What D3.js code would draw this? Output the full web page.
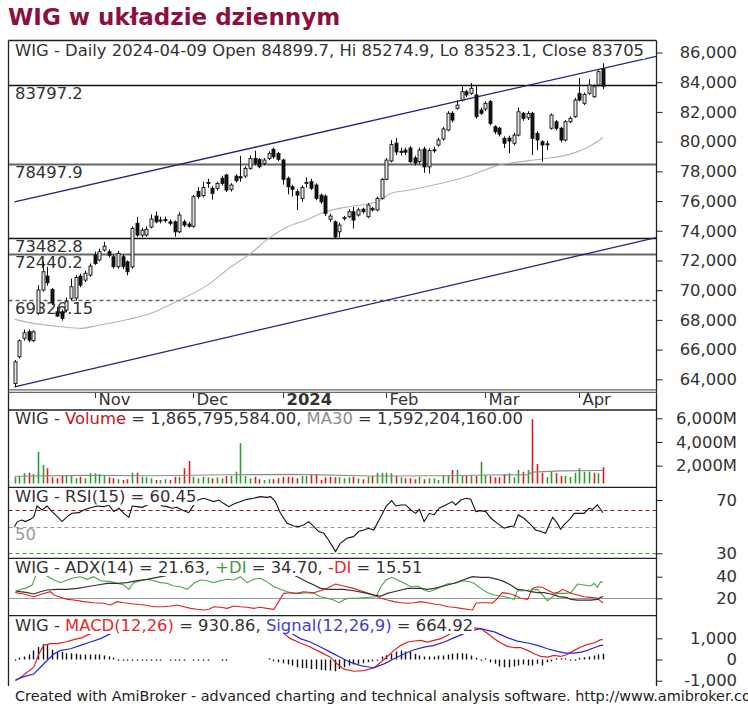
<!DOCTYPE html>
<html><head><meta charset="utf-8">
<script src="https://cdnjs.cloudflare.com/ajax/libs/d3/7.8.5/d3.min.js"></script>
<style>
body{margin:0;background:#fff}
svg{display:block}
text{font-family:"DejaVu Sans",Verdana,sans-serif}
</style>
</head><body>
<svg id="c" width="748" height="707"></svg>
<script>
// ---------------- DATA ----------------
const opens  = [63720,65515,66760,67200,66600,68460,70010,70950,70050,68545,68545,68660,69450,69470,70950,70680,71010,72360,72030,72700,
72590,72250,71580,72250,71910,71570,74500,73710,73710,74250,74990,74720,74750,74600,74600,73930,74600,74450,74300,76640,
76360,77200,76860,76860,77530,77750,76790,77680,77640,77680,78200,78870,78800,78540,78870,79480,79210,78760,77530,76960,
76630,76180,77200,77300,77080,76400,76330,74770,74600,73930,74850,74940,75280,75060,75450,74940,75510,75400,76180,77460,
78700,79900,79350,79430,79570,78900,78650,79500,78300,79450,79770,80180,80780,81910,82240,82800,83360,83250,83140,82130,
82200,82690,81000,80900,80220,80240,79890,80440,81910,81600,81910,80560,79990,79850,80900,81340,80900,80110,81340,81680,
83250,82580,83250,83020,83810,84899.7];
const highs  = [65300,66700,67350,67350,67300,70340,71910,71575,70150,68880,68700,69500,70780,71000,71100,71300,71800,72600,72800,73260,
72750,72400,72650,72400,72000,74300,74940,74200,74300,75100,75300,74950,74950,74750,74700,75250,74750,74600,76400,76950,
77300,77500,77000,77300,77700,77850,77200,77800,79050,78350,79080,79390,78900,78900,79350,79600,79300,78850,77650,77100,
76800,77050,77600,77500,77200,76500,76450,75150,74700,74550,75000,75450,75600,75550,75550,75850,75600,76300,77550,78900,
80100,80250,79600,79600,79700,79050,79600,79650,79550,79650,80250,81000,82050,82050,82800,83700,83500,83950,83810,82300,
82700,82800,81100,81000,80350,80400,80600,82300,82000,82050,82000,80700,80100,80050,81900,81450,81000,81450,81700,82950,
84280,83300,84200,83850,84800,85274.9];
const lows   = [63500,65400,66600,66500,66500,68350,69900,70300,69000,68210,67950,68500,69300,69300,70200,70550,70900,71700,71950,72600,
72200,71450,71450,71400,71000,71450,73600,73550,73600,74150,74500,74500,74550,74350,73600,73850,74250,74200,74200,76150,
76250,76900,76100,76700,77050,76600,76650,77250,77300,77550,78100,78400,78200,78400,78750,78850,78700,77100,76450,76300,
75400,75950,76900,76750,76050,75800,75000,74600,73500,73560,74700,74850,74150,74950,75150,74850,75300,75300,76100,77400,
78600,79100,79050,79100,78550,78400,78500,77900,77850,79250,79650,80050,80700,81300,82150,82700,83000,83150,81550,81800,
82050,81100,80500,80350,79570,79230,79750,80350,81400,81450,79100,79430,78650,79430,80800,80750,79950,80000,81250,81600,
82700,82450,83150,82950,83700,83523.1];
const closes = [65180,66593,67130,66640,67200,70010,71240,70500,69150,68255,68100,69220,70230,70860,70340,71140,71620,71800,72590,72960,
72360,71580,72480,71580,71240,74160,73710,74040,74100,74790,74600,74700,74720,74500,73930,75060,74380,74300,76290,76300,
76920,77250,76520,77190,77190,76740,77080,77370,77550,78200,78870,78540,78310,78760,79210,78980,78810,77460,76960,76790,
76400,76920,77250,76860,76180,75950,75170,74990,73590,74380,74880,75280,74720,75400,75280,75730,75400,76180,77460,78760,
79800,79300,79320,79290,78650,78560,79430,78300,79400,79430,80110,80850,81910,81450,82460,83360,83140,83590,81680,81910,
82580,81230,80670,80500,79890,80040,80440,82010,81570,81900,80220,80110,79770,79820,81790,80900,80110,81340,81570,82800,
82800,83180,83810,83700,84710,83705];

// volume in millions
const volume = [1010,1120,1350,1400,1300,3180,2050,1775,1010,930,1210,1210,1210,930,1065,930,1350,1350,1290,1210,
1010,930,845,785,845,1400,1400,1065,1010,930,785,785,845,785,1065,1065,1775,2390,1065,930,
1065,1010,930,1010,930,1120,1120,1490,3890,1120,930,1065,845,785,845,845,930,1065,1065,1010,
930,1120,1120,1210,1290,785,1010,1065,1010,1010,930,1010,1065,930,845,1065,1120,1400,1400,1400,
1350,1120,1010,930,930,845,1065,845,930,930,785,1210,1210,1630,1630,1210,1210,1210,1120,2330,
1210,1120,1010,1010,1290,1350,1010,1630,1490,1630,5920,2140,1400,1010,1490,1350,1120,1120,1065,1400,
1775,1490,1490,1400,1350,1865];
const volMA30 = [[0,1100],[15,1180],[30,1150],[45,1230],[60,1260],[76,1120],[92,1150],[100,1210],[109,1230],[110,1450],[116,1560],[125,1592]];

// 50-period style moving average on price
const priceMA = [[0,68034],[4,67765],[10,67535],[14,67430],[18,67650],[24,68030],[29,68440],[35,69330],[41,70340],[46,71580],[50,72430],[54,73490],[58,74270],[62,74720],[66,75280],[71,75620],[77,75950],[80,76520],[84,76740],[89,77080],[96,77640],[103,78420],[105,78540],[112,78830],[118,79160],[122,79660],[125,80260]];

// trend channel (index, price)
const channelUpper = [[0,75950],[136.5,85760]];
const channelLower = [[0,63495],[136.5,73555]];

const levels = [83797.2, 78497.9, 73482.8, 72440.2, 69326.15];
const levelLabels = ["83797.2","78497.9","73482.8","72440.2","69326.15"];

const monthTicks  = [17,38,57,79,100,120];
const monthLabels = ["Nov","Dec","2024","Feb","Mar","Apr"];

const priceTicks = [64000,66000,68000,70000,72000,74000,76000,78000,80000,82000,84000,86000];
const volTicks = [2000,4000,6000];
const rsiTicks = [30,70];
const adxTicks = [20,40];
const macdTicks = [-1000,0,1000];

const rsi = [[0,50],[0.6,53.8],[1.6,55],[2.3,53.8],[3.4,55.5],[4.1,57.5],[4.8,65.5],[5.4,63.8],[5.9,62.5],[6.9,65.5],[8,61.3],[9.1,57.5],[10.1,53.8],[11.2,57.5],[12.2,60],[13.7,60.5],[14.7,62.5],[15.8,63.8],[17.6,65.5],[19,65],[20,66.3],[21.1,61.3],[22.2,63.8],[23.2,60],[24.3,57],[25,65.5],[26,65],[27.1,64.5],[28.2,66.3],[30,69.5],[31.4,65.5],[32.4,65],[33.5,63.8],[34.5,64.5],[35.6,62.5],[37,60.5],[38.1,66.3],[39,70],[40.2,71.3],[41.3,70],[42.3,68.8],[43.4,70],[44.4,67.5],[45.5,65],[46.6,67],[48,68.8],[49.4,70.5],[50.8,71.3],[52.2,72.5],[53.6,72],[54.4,72.5],[55.4,68.8],[56.5,60],[57.9,52.5],[59.3,50.5],[60.4,50],[61.4,51.3],[62.5,53.8],[63.6,50],[64.6,46.3],[65.7,45],[66.7,40],[68.2,31.3],[69.2,37.5],[70.6,41.3],[72,42.5],[73.1,46.3],[74.2,47.5],[75.2,48.8],[76.3,47.5],[77.8,57.5],[78.9,65],[80.1,69.5],[81,65.5],[82.1,66.3],[83.1,66.3],[84.2,62.5],[85.2,60],[86,63],[87,53.8],[88.1,60],[89.1,58.8],[90.2,63.8],[91.6,66.3],[93,68.8],[93.7,66.3],[94.8,70],[95.9,71.3],[96.9,70.5],[98,61.3],[99,62],[100.1,61.3],[101.2,56.3],[102.6,52.5],[104,48.8],[105.1,50],[106.1,50.5],[107,58.8],[108.2,56.3],[109.7,51.3],[110.7,47.5],[111.8,46.3],[112.8,45],[114.3,57],[115.2,53],[116,48],[116.7,51.3],[117.8,55],[118.9,60],[119.9,60],[121,60],[122,63.8],[122.8,63],[123.8,66.3],[125,60.45]];
const rsiLevels = [62.5, 50, 30];

const plusDI = [[0.2,25.2],[1.3,28.3],[2.3,29.2],[3.75,32.3],[4.5,40.6],[5.2,49.9],[6,50],[6.9,40.6],[8.4,36.9],[9.8,34.5],[11.2,36.9],[12.2,38.5],[14,40],[15.4,37.6],[16.8,40],[18.3,36.3],[20.4,35.4],[21.8,33.9],[23.2,32.3],[24.3,28.3],[25.3,34.5],[26.8,36.3],[28.2,37.6],[29.6,36.3],[31,34.5],[32.4,33.9],[33.8,31.4],[35.2,30.7],[36.7,28.3],[38.1,33.9],[39.5,36.9],[40.9,36.3],[42.3,34.5],[43.7,36.3],[45.2,37.6],[46.6,36.9],[48,40],[49.4,34.5],[50.8,37.6],[52.2,38.5],[53.6,35.4],[55.1,30.7],[56.5,28.3],[57.9,26.1],[59.3,24.6],[60.7,24.6],[62.1,25.2],[63.6,24.6],[65,21.5],[66.4,20],[67.8,18.4],[68.9,15.9],[69.9,18.4],[71,20],[72.4,20],[74,20.5],[76.8,21.5],[77.8,30.7],[78.9,36.9],[80.1,39.4],[81.4,36.9],[82.8,33.9],[84.2,30.7],[85.6,31.4],[87,27.7],[88.1,26.1],[89.5,28.3],[90.9,31.4],[92.3,33.9],[93.7,33.9],[95.2,36.3],[96.6,35.4],[97.6,33.9],[99,29.2],[100.5,25.2],[101.9,23.1],[103.3,22.1],[104.7,20.9],[106.1,19],[106.8,27],[108.2,27],[109.7,27.7],[111.1,28.3],[113.2,17.8],[115.3,24.6],[117.1,24.6],[118.2,25.2],[119.6,33.2],[121,32.3],[122.4,31.4],[123.1,33.9],[123.8,30.2],[124.5,35.4],[125,34.7]];
const minusDI = [[0.2,25.2],[1.3,24.6],[2.7,23.1],[4.1,21.5],[5.5,23.5],[6.6,24.9],[7.6,26.1],[8.4,23.1],[9.8,20.9],[11.2,19],[12.6,18.4],[14.7,16.9],[16.8,15.9],[19,15.4],[20.4,13.8],[21.8,16.9],[23.2,15.9],[25.3,14.7],[27.5,13.8],[29.6,12.2],[31.7,12.2],[33.1,12.9],[34.5,13.8],[36,12.2],[37.4,10.7],[38.8,9.8],[40.2,9.2],[41.3,9.8],[42.3,12.2],[43.7,11.7],[45.2,10.7],[46.6,12.9],[48,12.2],[49.4,11.7],[50.8,10.7],[52.2,11.7],[53.6,10.7],[55.1,9.8],[56.1,16.9],[57.2,24.6],[58.6,25.2],[60,24.6],[61.4,26.1],[63.6,25.2],[65,27],[66.4,29.2],[68.2,33.2],[69.9,31.4],[72,29.2],[74.2,26.1],[76.3,23],[77.8,20],[79.2,18.4],[80.6,16.9],[82.1,15.9],[83.5,15.4],[84.9,15.9],[86.3,16.9],[87.7,15.9],[89.1,14.7],[90.6,13.8],[92,12.2],[93.4,11.7],[94.8,10.7],[96.2,9.8],[97.3,9.2],[98,15.4],[99,15.9],[100.5,15.9],[101.5,15.4],[102.6,20],[103.6,25.2],[104.7,24.6],[106.1,23.1],[107.5,20],[109,19],[110,29.2],[111.1,30.7],[112.1,30.2],[113.2,27.7],[114.6,24.6],[115.7,26.1],[116.4,28.3],[117.1,27],[118.2,24.6],[119.6,23.1],[121,21.5],[122.4,20.9],[123.8,20],[125,15.51]];
const adx = [[0.2,27],[1.3,26.1],[2.7,25.2],[4.1,24],[5.5,26.1],[6.9,27.7],[9.1,28.3],[11.2,28.3],[13.3,29.2],[15.4,30.7],[17.6,32.3],[19.7,33.9],[21.8,33.9],[23.9,34.5],[26,36.3],[28.2,37.6],[30.3,39.4],[31.7,40.6],[34,43],[38,45],[44,47],[50,47],[55,45],[58,43],[59.3,41.6],[60.7,38.5],[62.1,35.4],[63.6,32.3],[65,29.2],[66.4,28.3],[67.8,28.3],[69.9,28.3],[72,27],[74.2,25.2],[76.3,23],[77.8,22.1],[79.2,24.6],[80.6,26.1],[82.1,27.7],[83.5,29.2],[84.9,29.2],[86.3,29.2],[87.7,28.3],[89.1,29.2],[90.6,30.7],[92,32.3],[93.4,33.9],[94.8,36.3],[96.2,38.5],[97.3,40],[99,39.4],[100.8,39.4],[102.6,37.6],[104,35.4],[105.4,32.3],[106.8,28.3],[108.2,27.7],[109.7,26.1],[111.1,25.2],[112.5,25.2],[113.9,24],[115.7,21.5],[117.1,20.9],[118.2,19],[119.6,18.4],[121,18.4],[122.4,18.4],[123.8,19],[124.5,20.9],[125,21.63]];

const macd = [[0.2,-1000],[1.3,-843],[2.7,-605],[4.1,-365],[5.2,270],[6.2,667],[7.6,745],[9.1,745],[10.8,825],[12.6,937],[14.4,1032],[16.1,1222],[20,1400],[30,1700],[40,1800],[48,1700],[54,1450],[57.2,1225],[58.6,984],[60.7,778],[62.8,587],[65,349],[67.1,110],[68.5,-205],[69.9,-443],[72,-555],[74.2,-524],[76.3,-400],[77.8,-127],[79.2,143],[80.6,430],[82.1,667],[83.5,825],[84.9,873],[86.3,905],[87.7,825],[89.1,905],[90.6,984],[92.7,1225],[95,1400],[97,1500],[99,1460],[100.5,1222],[101.9,984],[103.3,778],[104.7,620],[106.1,556],[107.5,556],[109,430],[110.4,270],[111.8,143],[113.2,110],[114.6,190],[116,143],[117.4,238],[118.9,430],[120.3,587],[121.7,714],[123.1,778],[124.5,937],[125,930.86]];
const signal = [[0.2,-968],[2,-810],[4.1,-683],[5.5,-365],[6.9,-48],[8.4,270],[9.8,430],[11.9,508],[14,667],[16.1,825],[18.3,984],[20.4,1222],[25,1400],[35,1620],[45,1720],[52,1650],[57,1420],[58.9,1222],[60.7,984],[62.8,825],[65,587],[67.1,349],[69.2,110],[71.3,-127],[73.5,-285],[75.6,-365],[76.4,-380],[78.5,-206],[80.6,32],[82.8,270],[84.9,460],[87,587],[89.1,667],[91.3,825],[93.4,1032],[95.5,1222],[97.5,1380],[99,1460],[101.9,1300],[104.7,1032],[106.8,870],[109,778],[111.1,667],[113.2,508],[115.3,380],[117.1,300],[118.9,300],[120.3,349],[121.7,430],[123.1,556],[124.5,667],[125,664.92]];
const macdHist = [32,79,143,238,430,587,714,667,460,350,350,300,300,270,238,238,238,238,238,190,
143,79,32,40,40,45,40,40,35,40,40,35,0,40,35,35,40,0,35,40,
35,40,0,0,35,35,0,0,0,0,0,0,0,0,-20,-79,-127,-175,-238,-286,
-365,-397,-397,-444,-444,-492,-524,-524,-556,-444,-365,-300,-238,-200,-175,-127,-79,32,143,200,
270,381,430,381,350,270,190,143,143,143,190,190,238,270,300,300,270,190,79,32,
-48,-127,-206,-333,-365,-365,-333,-286,-238,-286,-286,-206,-286,-127,-79,-48,-30,-20,20,40,
79,111,143,190,238,270];

// ---------------- LAYOUT ----------------
const FONT = '"DejaVu Sans",Verdana,sans-serif';
const X0 = 8.5, X1 = 656.5;
const svg = d3.select("#c");
const x = d3.scaleLinear().domain([0,125]).range([14.5,603]);
const yP = d3.scaleLinear().domain([64000,86000]).range([379.3,52.5]);
const yV = d3.scaleLinear().domain([500,6000]).range([483.4,418.3]);
const yR = d3.scaleLinear().domain([30,70]).range([553.3,500]);
const yA = d3.scaleLinear().domain([20,40]).range([598.3,576.7]);
const yM = d3.scaleLinear().domain([-1000,1000]).range([680.7,638.3]);
const cx = i => Math.round(x(i)) + 0.5;

const panels = {
  price:{top:40.5,bottom:389.5}, vol:{top:410,bottom:487.3}, rsi:{top:487.3,bottom:558.3},
  adx:{top:558.3,bottom:615.7}, macd:{top:615.7,bottom:686}
};
const defs = svg.append("defs");
Object.entries(panels).forEach(([k,p])=>{
  defs.append("clipPath").attr("id","clip-"+k).append("rect")
    .attr("x",X0+0.5).attr("y",p.top+0.5).attr("width",X1-X0-1).attr("height",p.bottom-p.top-1);
});

// Title
svg.append("text").attr("x",8).attr("y",25).attr("font-size",23).attr("font-weight","bold")
  .attr("fill","#8b1040").text("WIG w układzie dziennym");

function header(y, parts, size){
  const t = svg.append("text").attr("x",15).attr("y",y).attr("font-size",size||16.4).attr("fill","#333");
  parts.forEach(p=>t.append("tspan").attr("fill",p[1]||"#333").text(p[0]));
  const b = t.node().getBBox();
  svg.insert("rect", ()=>t.node()).attr("x",b.x-1).attr("y",y-13).attr("width",b.width+2).attr("height",16).attr("fill","#fff");
  return t;
}
const lineGen = (ys) => d3.line().x(d=>x(d[0])).y(d=>ys(d[1]));

// ---------- PRICE PANEL ----------
const gP = svg.append("g").attr("clip-path","url(#clip-price)");
const levelStyles = [{c:"#111",w:1.3,d:null},{c:"#666",w:2,d:null},{c:"#111",w:1.5,d:null},{c:"#666",w:2,d:null},{c:"#666",w:1.5,d:"4,3"}];
levels.forEach((v,k)=>{
  const yy = Math.round(yP(v))+0.5;
  gP.append("line").attr("x1",X0).attr("x2",X1).attr("y1",yy).attr("y2",yy)
    .attr("stroke",levelStyles[k].c).attr("stroke-width",levelStyles[k].w).attr("stroke-dasharray",levelStyles[k].d);
  gP.append("text").attr("x",15).attr("y",yy+13).attr("font-size",16.4).attr("fill","#333").text(levelLabels[k]);
});
gP.append("path").datum(priceMA).attr("d",lineGen(yP).curve(d3.curveMonotoneX)).attr("fill","none").attr("stroke","#b4b4b4").attr("stroke-width",1.1);
[channelUpper, channelLower].forEach(c=>{
  gP.append("path").datum(c).attr("d",lineGen(yP)).attr("fill","none").attr("stroke","#23237e").attr("stroke-width",1.3);
});
// candles
const idx = d3.range(opens.length);
gP.selectAll("line.wick").data(idx).join("line").attr("class","wick")
  .attr("x1",i=>cx(i)).attr("x2",i=>cx(i)).attr("y1",i=>yP(highs[i])).attr("y2",i=>yP(lows[i]))
  .attr("stroke","#111").attr("stroke-width",1);
gP.selectAll("rect.body").data(idx).join("rect").attr("class","body")
  .attr("x",i=>cx(i)-1.5).attr("width",3)
  .attr("y",i=>yP(Math.max(opens[i],closes[i])))
  .attr("height",i=>Math.max(1,Math.abs(yP(opens[i])-yP(closes[i]))))
  .attr("fill",i=>closes[i]<opens[i]?"#111":"#e4e4e4")
  .attr("stroke","#111").attr("stroke-width",0.9);
header(56,[["WIG - Daily 2024-04-09 Open 84899.7, Hi 85274.9, Lo 83523.1, Close 83705"]]);

// ---------- DATE ROW ----------
monthTicks.forEach((m,k)=>{
  const xx = cx(m);
  svg.append("line").attr("x1",xx).attr("x2",xx).attr("y1",393).attr("y2",398).attr("stroke","#333");
  svg.append("text").attr("x",xx+3).attr("y",405).attr("font-size",16.4).attr("fill","#333")
    .attr("font-weight",monthLabels[k]==="2024"?"bold":"normal").text(monthLabels[k]);
});

// ---------- VOLUME ----------
const gV = svg.append("g").attr("clip-path","url(#clip-vol)");
gV.selectAll("line.vb").data(idx).join("line").attr("class","vb")
  .attr("x1",i=>cx(i)).attr("x2",i=>cx(i)).attr("y1",yV(500)).attr("y2",i=>yV(volume[i]))
  .attr("stroke",i=> (i===0 || closes[i]>=closes[i-1]) ? "#2f9b2f" : "#d42020").attr("stroke-width",1.6);
gV.append("path").datum(volMA30).attr("d",lineGen(yV)).attr("fill","none").attr("stroke","#8c8c8c").attr("stroke-width",1.1);
header(424,[["WIG - "],["Volume","#c8141e"],[" = 1,865,795,584.00, "],["MA30","#8c8c8c"],[" = 1,592,204,160.00"]]);

// ---------- RSI ----------
const gR = svg.append("g").attr("clip-path","url(#clip-rsi)");
const rsiStyle = ["#a01818","#999","#2ca02c"];
rsiLevels.forEach((v,k)=>{
  const yy = Math.round(yR(v))+0.5;
  gR.append("line").attr("x1",X0).attr("x2",X1).attr("y1",yy).attr("y2",yy)
    .attr("stroke",rsiStyle[k]).attr("stroke-width",1.2).attr("stroke-dasharray","4,3");
});
gR.append("text").attr("x",15).attr("y",540).attr("font-size",16.4).attr("fill","#999").text("50");
gR.append("path").datum(rsi).attr("d",lineGen(yR)).attr("fill","none").attr("stroke","#111").attr("stroke-width",1.1);
header(502,[["WIG - RSI(15) = 60.45"]]);

// ---------- ADX ----------
const gA = svg.append("g").attr("clip-path","url(#clip-adx)");
gA.append("line").attr("x1",X0).attr("x2",X1).attr("y1",Math.round(yA(20))+0.5).attr("y2",Math.round(yA(20))+0.5)
  .attr("stroke","#999").attr("stroke-width",1.2);
gA.append("path").datum(plusDI).attr("d",lineGen(yA)).attr("fill","none").attr("stroke","#45a845").attr("stroke-width",1.1);
gA.append("path").datum(minusDI).attr("d",lineGen(yA)).attr("fill","none").attr("stroke","#e02020").attr("stroke-width",1.1);
gA.append("path").datum(adx).attr("d",lineGen(yA)).attr("fill","none").attr("stroke","#333").attr("stroke-width",1.2);
header(573,[["WIG - ADX(14) = 21.63, "],["+DI","#3c9c3c"],[" = 34.70, "],["-DI","#e82828"],[" = 15.51"]]);

// ---------- MACD ----------
const gM = svg.append("g").attr("clip-path","url(#clip-macd)");
gM.selectAll("line.hb").data(idx.filter(i=>macdHist[i]!==0)).join("line").attr("class","hb")
  .attr("x1",i=>cx(i)).attr("x2",i=>cx(i)).attr("y1",yM(0))
  .attr("y2",i=>{const h=yM(macdHist[i])-yM(0); return yM(0)+(Math.abs(h)<1.2?(h<0?1.2:-1.2):h);})
  .attr("stroke","#111").attr("stroke-width",1.4);
gM.append("path").datum(macd).attr("d",lineGen(yM)).attr("fill","none").attr("stroke","#e02020").attr("stroke-width",1.2);
gM.append("path").datum(signal).attr("d",lineGen(yM)).attr("fill","none").attr("stroke","#2828d8").attr("stroke-width",1.2);
header(631,[["WIG - "],["MACD(12,26)","#e8282a"],[" = 930.86, "],["Signal(12,26,9)","#4040d0"],[" = 664.92"]]);

// ---------- FRAME ----------
const frame = svg.append("g").attr("stroke","#222").attr("fill","none");
frame.append("line").attr("x1",X0).attr("x2",X1).attr("y1",40.5).attr("y2",40.5).attr("stroke-width",1.3);
frame.append("line").attr("x1",X0).attr("x2",X0).attr("y1",40.5).attr("y2",686).attr("stroke-width",1.3);
frame.append("line").attr("x1",X1).attr("x2",X1).attr("y1",40.5).attr("y2",686).attr("stroke-width",1.3);
[389.8,392.3].forEach(yy=>frame.append("line").attr("x1",X0).attr("x2",X1).attr("y1",yy).attr("y2",yy).attr("stroke","#666").attr("stroke-width",1.2));
[410,487.3,558.3,615.7].forEach(yy=>frame.append("line").attr("x1",X0).attr("x2",X1).attr("y1",yy).attr("y2",yy).attr("stroke-width",1.3));

// ---------- RIGHT AXES ----------
function rightAxis(scale, values, fmt){
  const g = svg.append("g").attr("transform",`translate(${X1},0)`)
    .call(d3.axisRight(scale).tickValues(values).tickFormat(fmt).tickSize(6));
  g.attr("font-family",FONT).attr("font-size",16.4);
  g.select(".domain").remove();
  g.selectAll(".tick line").attr("stroke","#222");
  g.selectAll(".tick text").attr("x",80.5).attr("text-anchor","end").attr("fill","#333");
}
const comma = d3.format(",");
rightAxis(yP, priceTicks, d=>comma(d));
rightAxis(yV, volTicks, d=>comma(d)+"M");
rightAxis(yR, rsiTicks, d=>String(d));
rightAxis(yA, adxTicks, d=>String(d));
rightAxis(yM, macdTicks, d=>(d<0?"-":"")+comma(Math.abs(d)));

// footer
svg.append("text").attr("x",15).attr("y",701).attr("font-size",14.4).attr("fill","#222")
  .text("Created with AmiBroker - advanced charting and technical analysis software. http://www.amibroker.com");
</script>
</body></html>
